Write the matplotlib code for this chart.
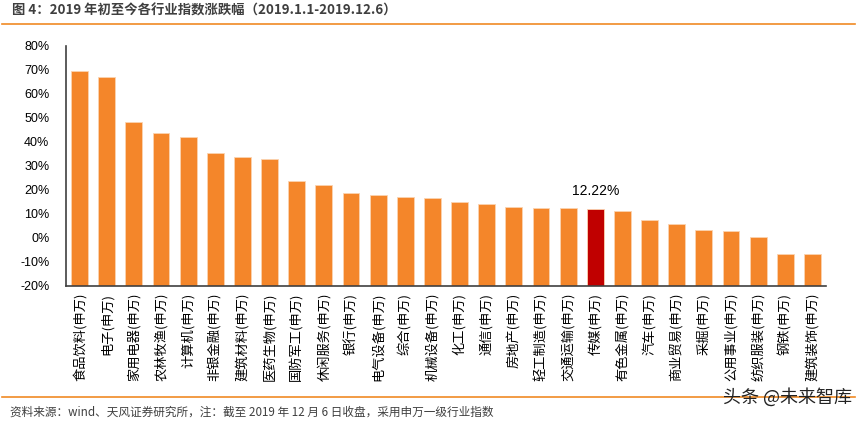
import matplotlib
matplotlib.use('Agg')
import matplotlib.pyplot as plt
import numpy as np

plt.rcParams['font.family'] = ['Noto Sans CJK SC', 'DejaVu Sans']

# ── data ────────────────────────────────────────────────────────────────────
industries = ['食品饮料', '电子', '家用电器', '农林牧渔', '计算机', '非银金融',
              '建筑材料', '医药生物', '国防军工', '休闲服务', '银行', '电气设备',
              '综合', '机械设备', '化工', '通信', '房地产', '轻工制造', '交通运输',
              '传媒', '有色金属', '汽车', '商业贸易', '采掘', '公用事业',
              '纺织服装', '钢铁', '建筑装饰']
change_pct = [69.7, 66.9, 48.2, 43.9, 42.1, 35.3, 33.9, 33.1, 23.8, 22.1,
              18.9, 18.1, 17.2, 16.7, 15.2, 14.3, 13.1, 12.6, 12.4, 12.22,
              11.1, 7.7, 5.7, 3.2, 2.9, 0.3, -6.7, -6.8]
highlight = '传媒'
yticks = [-20, -10, 0, 10, 20, 30, 40, 50, 60, 70, 80]

ORANGE = '#F4862A'
RED = '#C00000'
GREY = '#404040'

labels = [f'{n}(申万)' for n in industries]
vals = np.array(change_pct)
base = yticks[0]
colors = [RED if n == highlight else ORANGE for n in industries]

fig = plt.figure(figsize=(8.64, 4.25), dpi=100)
ax = fig.add_axes([66/864, 1-286/425, 760/864, 240/425])

x = np.arange(len(industries))
ax.bar(x, vals - base, bottom=base, width=0.62, color=colors,
       edgecolor='#FBD3B0', linewidth=0.6)

hi = industries.index(highlight)
ax.text(hi, vals[hi] + 4.5, f'{vals[hi]:.2f}%', ha='center', va='bottom',
        fontsize=10, color='black', family=['Liberation Sans', 'DejaVu Sans'])

ax.set_xlim(-0.5, len(industries) - 0.5)
ax.set_ylim(yticks[0], yticks[-1])
ax.set_yticks(yticks)
ax.set_yticklabels([f'{t}%' for t in yticks], fontsize=9,
                   family=['Liberation Sans', 'DejaVu Sans'])
ax.set_xticks(x)
ax.set_xticklabels(labels, rotation=90, fontsize=9.5, va='top', ha='center')
ax.tick_params(axis='both', length=0, colors='black')
ax.tick_params(axis='x', pad=5)
ax.tick_params(axis='y', pad=12)
for s in ['top', 'right']:
    ax.spines[s].set_visible(False)
for s in ['left', 'bottom']:
    ax.spines[s].set_color(GREY)
    ax.spines[s].set_linewidth(1.2)

# title, rules, source note, watermark
fig.text(12/864, 1-11/425, '图 4：2019 年初至今各行业指数涨跌幅（2019.1.1-2019.12.6）',
         fontsize=9.6, fontweight='bold', color='#3F3F3F', va='center', ha='left')
fig.add_artist(plt.Line2D([2/864, 855/864], [1-24/425, 1-24/425],
                          color='#F08A24', linewidth=1.2))
fig.add_artist(plt.Line2D([2/864, 855/864], [1-397/425, 1-397/425],
                          color='#F08A24', linewidth=1.2))
fig.text(10/864, 1-412/425,
         '资料来源：wind、天风证券研究所，注：截至 2019 年 12 月 6 日收盘，采用申万一级行业指数',
         fontsize=8.4, color='#3F3F3F', va='center', ha='left')
fig.text(852/864, 1-397/425, '头条 @未来智库', fontsize=13, color='#222222',
         va='center', ha='right')

fig.savefig('out.png', dpi=100)
